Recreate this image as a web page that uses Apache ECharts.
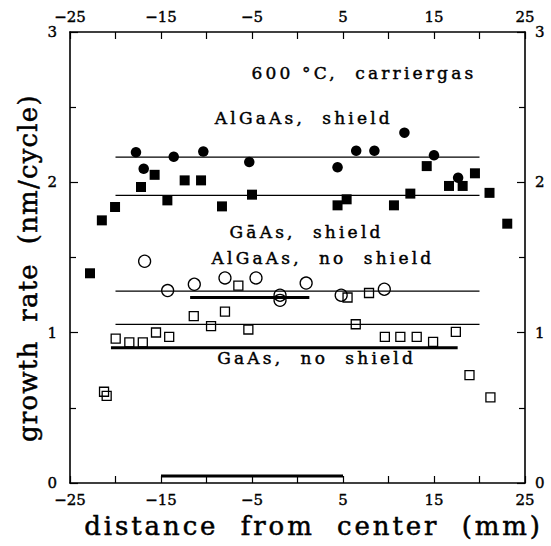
<!DOCTYPE html>
<html><head><meta charset="utf-8">
<script src="https://cdn.jsdelivr.net/npm/echarts@6/dist/echarts.min.js"></script>
<style>html,body{margin:0;padding:0;background:#fff}#c{width:551px;height:546px}</style>
</head><body><div id="c"></div>
<script>
// AlGaAs, shield (filled circles)
const alGaAsShield = [[-17.75,2.20],[-16.9,2.09],[-13.6,2.17],[-10.35,2.205],[-5.3,2.135],[4.4,2.10],[6.45,2.21],[8.45,2.21],[11.75,2.33],[15.0,2.18],[17.65,2.03]];
// GaAs, shield (filled squares)
const gaAsShield = [[-22.8,1.395],[-21.5,1.747],[-20.05,1.836],[-17.2,1.969],[-15.7,2.05],[-14.3,1.88],[-12.4,2.013],[-10.6,2.013],[-8.3,1.84],[-5.0,1.918],[4.4,1.847],[5.4,1.887],[10.6,1.847],[12.4,1.925],[14.2,2.108],[16.65,1.976],[18.15,1.976],[19.5,2.06],[21.1,1.93],[23.05,1.725]];
// AlGaAs, no shield (open circles)
const alGaAsNoShield = [[-16.8,1.475],[-14.27,1.28],[-11.34,1.322],[-7.97,1.364],[-4.56,1.364],[-1.92,1.249],[-1.92,1.215],[0.95,1.33],[4.8,1.249],[9.54,1.289]];
// GaAs, no shield (open squares)
const gaAsNoShield = [[-21.26,0.607],[-20.97,0.58],[-19.98,0.961],[-18.48,0.935],[-17.0,0.935],[-15.55,1.001],[-14.1,0.972],[-11.4,1.11],[-9.5,1.043],[-7.97,1.14],[-6.5,1.313],[-5.4,1.021],[5.5,1.234],[6.4,1.056],[7.86,1.264],[9.6,0.972],[11.3,0.972],[13.1,0.972],[14.9,0.939],[17.4,1.005],[18.9,0.718],[21.2,0.569]];
// horizontal average lines [x1, x2, y]
const thinLines = [[-20,20,2.168],[-20,20,1.913],[-20,20,1.276],[-20,20,1.055]];
const thickLines = [[-11.8,1.3,1.234],[-20.5,17.6,0.899],[-15,5,0.047]];
// annotations [text, x, y]
const annotations = [["600 °C,  carriergas",7.3,2.73],["AlGaAs,  shield",0.7,2.43],["GāAs,  shield",1.0,1.668],["AlGaAs,  no  shield",2.8,1.495],["GaAs,  no  shield",2.1,0.83]];
const xTicks = [-25,-15,-5,5,15,25];
const yTicks = [0,1,2,3];
const xTitle = 'distance  from  center  (mm)';
const yTitle = 'growth  rate  (nm/cycle)';

const FONT = 'DejaVu Serif';
const chart = echarts.init(document.getElementById('c'), null, {renderer:'svg'});
const axisLine = {show:true, onZero:false, lineStyle:{color:'#000', width:1.6}};
const lbl = {color:'#000', fontFamily:FONT, fontSize:15, textBorderColor:'#000', textBorderWidth:0.4};
function xAx(pos){
  return {type:'value', position:pos, min:-25, max:25, interval:10,
    axisLine:axisLine, axisTick:{show:true, inside:true, length:7, lineStyle:{color:'#000',width:1.2}},
    minorTick:{show:true, splitNumber:2, length:7, lineStyle:{color:'#000',width:1.2}},
    splitLine:{show:false}, minorSplitLine:{show:false},
    axisLabel:Object.assign({show:true, margin:pos==='top'?8:9,
      formatter:v=>xTicks.includes(v)?String(v).replace('-','\u2212'):''}, lbl)};
}
function yAx(pos){
  return {type:'value', position:pos, min:0, max:3, interval:1,
    axisLine:axisLine, axisTick:{show:true, inside:true, length:8, lineStyle:{color:'#000',width:1.2}},
    minorTick:{show:true, splitNumber:2, length:6, lineStyle:{color:'#000',width:1.2}},
    splitLine:{show:false}, minorSplitLine:{show:false},
    axisLabel:Object.assign({show:true, margin:pos==='left'?13:10,
      formatter:v=>yTicks.includes(v)?String(v):''}, lbl)};
}
const series = [];
thinLines.forEach(l=>series.push({type:'line', data:[[l[0],l[2]],[l[1],l[2]]], symbol:'none', lineStyle:{color:'#000',width:1.4}, silent:true, z:1}));
thickLines.forEach(l=>series.push({type:'line', data:[[l[0],l[2]],[l[1],l[2]]], symbol:'none', lineStyle:{color:'#000',width:3}, silent:true, z:1}));
series.push({type:'scatter', data:alGaAsShield, symbol:'circle', symbolSize:10.5, itemStyle:{color:'#000', opacity:1}, z:3});
series.push({type:'scatter', data:gaAsShield, symbol:'rect', symbolSize:10, itemStyle:{color:'#000', opacity:1}, z:3});
series.push({type:'scatter', data:alGaAsNoShield, symbol:'circle', symbolSize:12, itemStyle:{color:'rgba(0,0,0,0)', borderColor:'#000', borderWidth:1.3, opacity:1}, z:3});
series.push({type:'scatter', data:gaAsNoShield, symbol:'rect', symbolSize:9, itemStyle:{color:'rgba(0,0,0,0)', borderColor:'#000', borderWidth:1.3, opacity:1}, z:3});
series.push({type:'scatter', data:annotations.map(a=>({value:[a[1],a[2]], name:a[0]})), symbolSize:0, silent:true, z:4,
  itemStyle:{opacity:1},
  label:{show:true, position:'inside', formatter:p=>p.name, color:'#000', opacity:1, fontFamily:FONT, fontSize:17, textBorderColor:'#000', textBorderWidth:0.45}});

chart.setOption({
  animation:false,
  backgroundColor:'#fff',
  grid:{left:70, right:26, top:32, bottom:63, containLabel:false},
  xAxis:[xAx('bottom'), xAx('top')],
  yAxis:[yAx('left'), yAx('right')],
  series:series,
  graphic:[
    {type:'text', left:84, top:513, style:{text:xTitle, font:'26px "DejaVu Serif"', fill:'#000', stroke:'#000', lineWidth:0.5}},
    {type:'text', rotation:Math.PI/2, x:15, y:442, style:{text:yTitle, font:'26px "DejaVu Serif"', fill:'#000', stroke:'#000', lineWidth:0.5}}
  ]
});
const spacing = {};
annotations.forEach(a=>spacing[a[0]]='3.2px');
spacing[xTitle]='2.9px';
spacing[yTitle]='1.2px';
function applySpacing(){
  document.querySelectorAll('#c text').forEach(t=>{
    const s = spacing[t.textContent];
    if (s) t.style.letterSpacing = s;
  });
}
applySpacing();
chart.on('finished', applySpacing);
setTimeout(applySpacing, 0);
</script></body></html>
